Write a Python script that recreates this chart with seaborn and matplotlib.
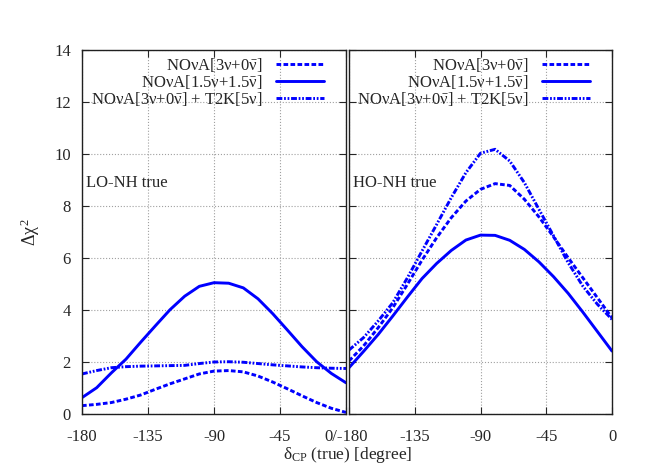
import numpy as np
import pandas as pd
import matplotlib
matplotlib.use("Agg")
import matplotlib.pyplot as plt
import seaborn as sns

# delta_CP (true) in degrees, sampled every 10 degrees
delta = [-180, -170, -160, -150, -140, -130, -120, -110, -100, -90,
         -80, -70, -60, -50, -40, -30, -20, -10, 0]

# LO-NH true
lo_nova_3_0 = [0.32, 0.37, 0.44, 0.57, 0.73, 0.95, 1.16, 1.35, 1.54, 1.65,
               1.67, 1.62, 1.46, 1.23, 0.97, 0.70, 0.44, 0.22, 0.06]
lo_nova_15_15 = [0.63, 1.01, 1.58, 2.11, 2.76, 3.39, 4.01, 4.53, 4.91, 5.05,
                 5.03, 4.85, 4.43, 3.86, 3.23, 2.59, 2.01, 1.56, 1.20]
lo_nova_t2k = [1.54, 1.67, 1.78, 1.82, 1.84, 1.85, 1.86, 1.87, 1.94, 2.00,
               2.01, 1.99, 1.94, 1.89, 1.85, 1.81, 1.78, 1.76, 1.75]

# HO-NH true
ho_nova_3_0 = [2.04, 2.62, 3.32, 4.09, 4.99, 5.92, 6.78, 7.55, 8.19, 8.64,
               8.86, 8.79, 8.26, 7.58, 6.81, 6.01, 5.24, 4.47, 3.70]
ho_nova_15_15 = [1.78, 2.41, 3.06, 3.77, 4.50, 5.21, 5.79, 6.29, 6.69, 6.88,
                 6.87, 6.68, 6.33, 5.85, 5.28, 4.64, 3.92, 3.17, 2.42]
ho_nova_t2k = [2.46, 2.94, 3.58, 4.28, 5.24, 6.27, 7.29, 8.32, 9.28, 10.03,
               10.18, 9.73, 8.90, 7.87, 6.85, 5.82, 4.92, 4.22, 3.64]

labels = [r"NO$\nu$A[3$\nu$+0$\bar{\nu}$]",
          r"NO$\nu$A[1.5$\nu$+1.5$\bar{\nu}$]",
          r"NO$\nu$A[3$\nu$+0$\bar{\nu}$] + T2K[5$\nu$]"]

sns.set_style("ticks")
plt.rcParams["font.family"] = ["Liberation Serif", "DejaVu Serif"]
plt.rcParams["mathtext.fontset"] = "custom"
plt.rcParams["mathtext.rm"] = "Liberation Serif"
plt.rcParams["mathtext.it"] = "Liberation Serif"
plt.rcParams["mathtext.bf"] = "Liberation Serif:bold"

fig = plt.figure(figsize=(6.64, 4.65), dpi=100)
ax1 = fig.add_axes([0.1235, 0.1097, 0.3976, 0.7828])
ax2 = fig.add_axes([0.5256, 0.1097, 0.3961, 0.7828])

styles = [dict(dashes=(1.6, 0.8)),
          dict(linestyle="-"),
          dict(dashes=(2.0, 0.6, 0.6, 0.6, 0.6, 0.6))]

panels = [(ax1, [lo_nova_3_0, lo_nova_15_15, lo_nova_t2k], "LO-NH true"),
          (ax2, [ho_nova_3_0, ho_nova_15_15, ho_nova_t2k], "HO-NH true")]

for ax, series, tag in panels:
    for vals, lab, st in zip(series, labels, styles):
        df = pd.DataFrame({"delta": delta, "chi2": vals})
        sns.lineplot(data=df, x="delta", y="chi2", ax=ax, color="#0000ff",
                     lw=2.1, label=lab, **st)
    ax.set_xlim(-180, 0)
    ax.set_ylim(0, 14)
    ax.set_xticks([-180, -135, -90, -45, 0])
    ax.set_yticks(range(0, 15, 2))
    ax.grid(True, color="#a0a0a0", linestyle=":", linewidth=0.8)
    ax.tick_params(direction="in", length=5, top=True, right=True, labelsize=12)
    ax.tick_params(axis="x", pad=11)
    ax.tick_params(axis="y", pad=8)
    for sp in ax.spines.values():
        sp.set_linewidth(1.0)
        sp.set_color("#202020")
    ax.set_xlabel("")
    ax.set_ylabel("")
    ax.text(-177, 8.9, tag, fontsize=12, va="center", ha="left")
    ax.legend(loc="upper right", bbox_to_anchor=(0.962, 1.016), frameon=False,
              markerfirst=False, fontsize=12, handlelength=2.9, labelspacing=-0.05,
              borderaxespad=0.1, handletextpad=0.8, borderpad=0.6)

ax1.set_xticklabels(["-180", "-135", "-90", "-45", "0/-180"])
ax2.set_xticklabels(["", "-135", "-90", "-45", "0"])
ax2.set_yticklabels([])

fig.text(0.046, 0.50, r"$\Delta\chi^2$", rotation=90, fontsize=13, ha="center", va="center")
fig.text(0.524, 0.022, r"$\delta_{\mathrm{CP}}$ (true) [degree]", fontsize=12.5, ha="center", va="center")

fig.savefig("out.png", dpi=100)
